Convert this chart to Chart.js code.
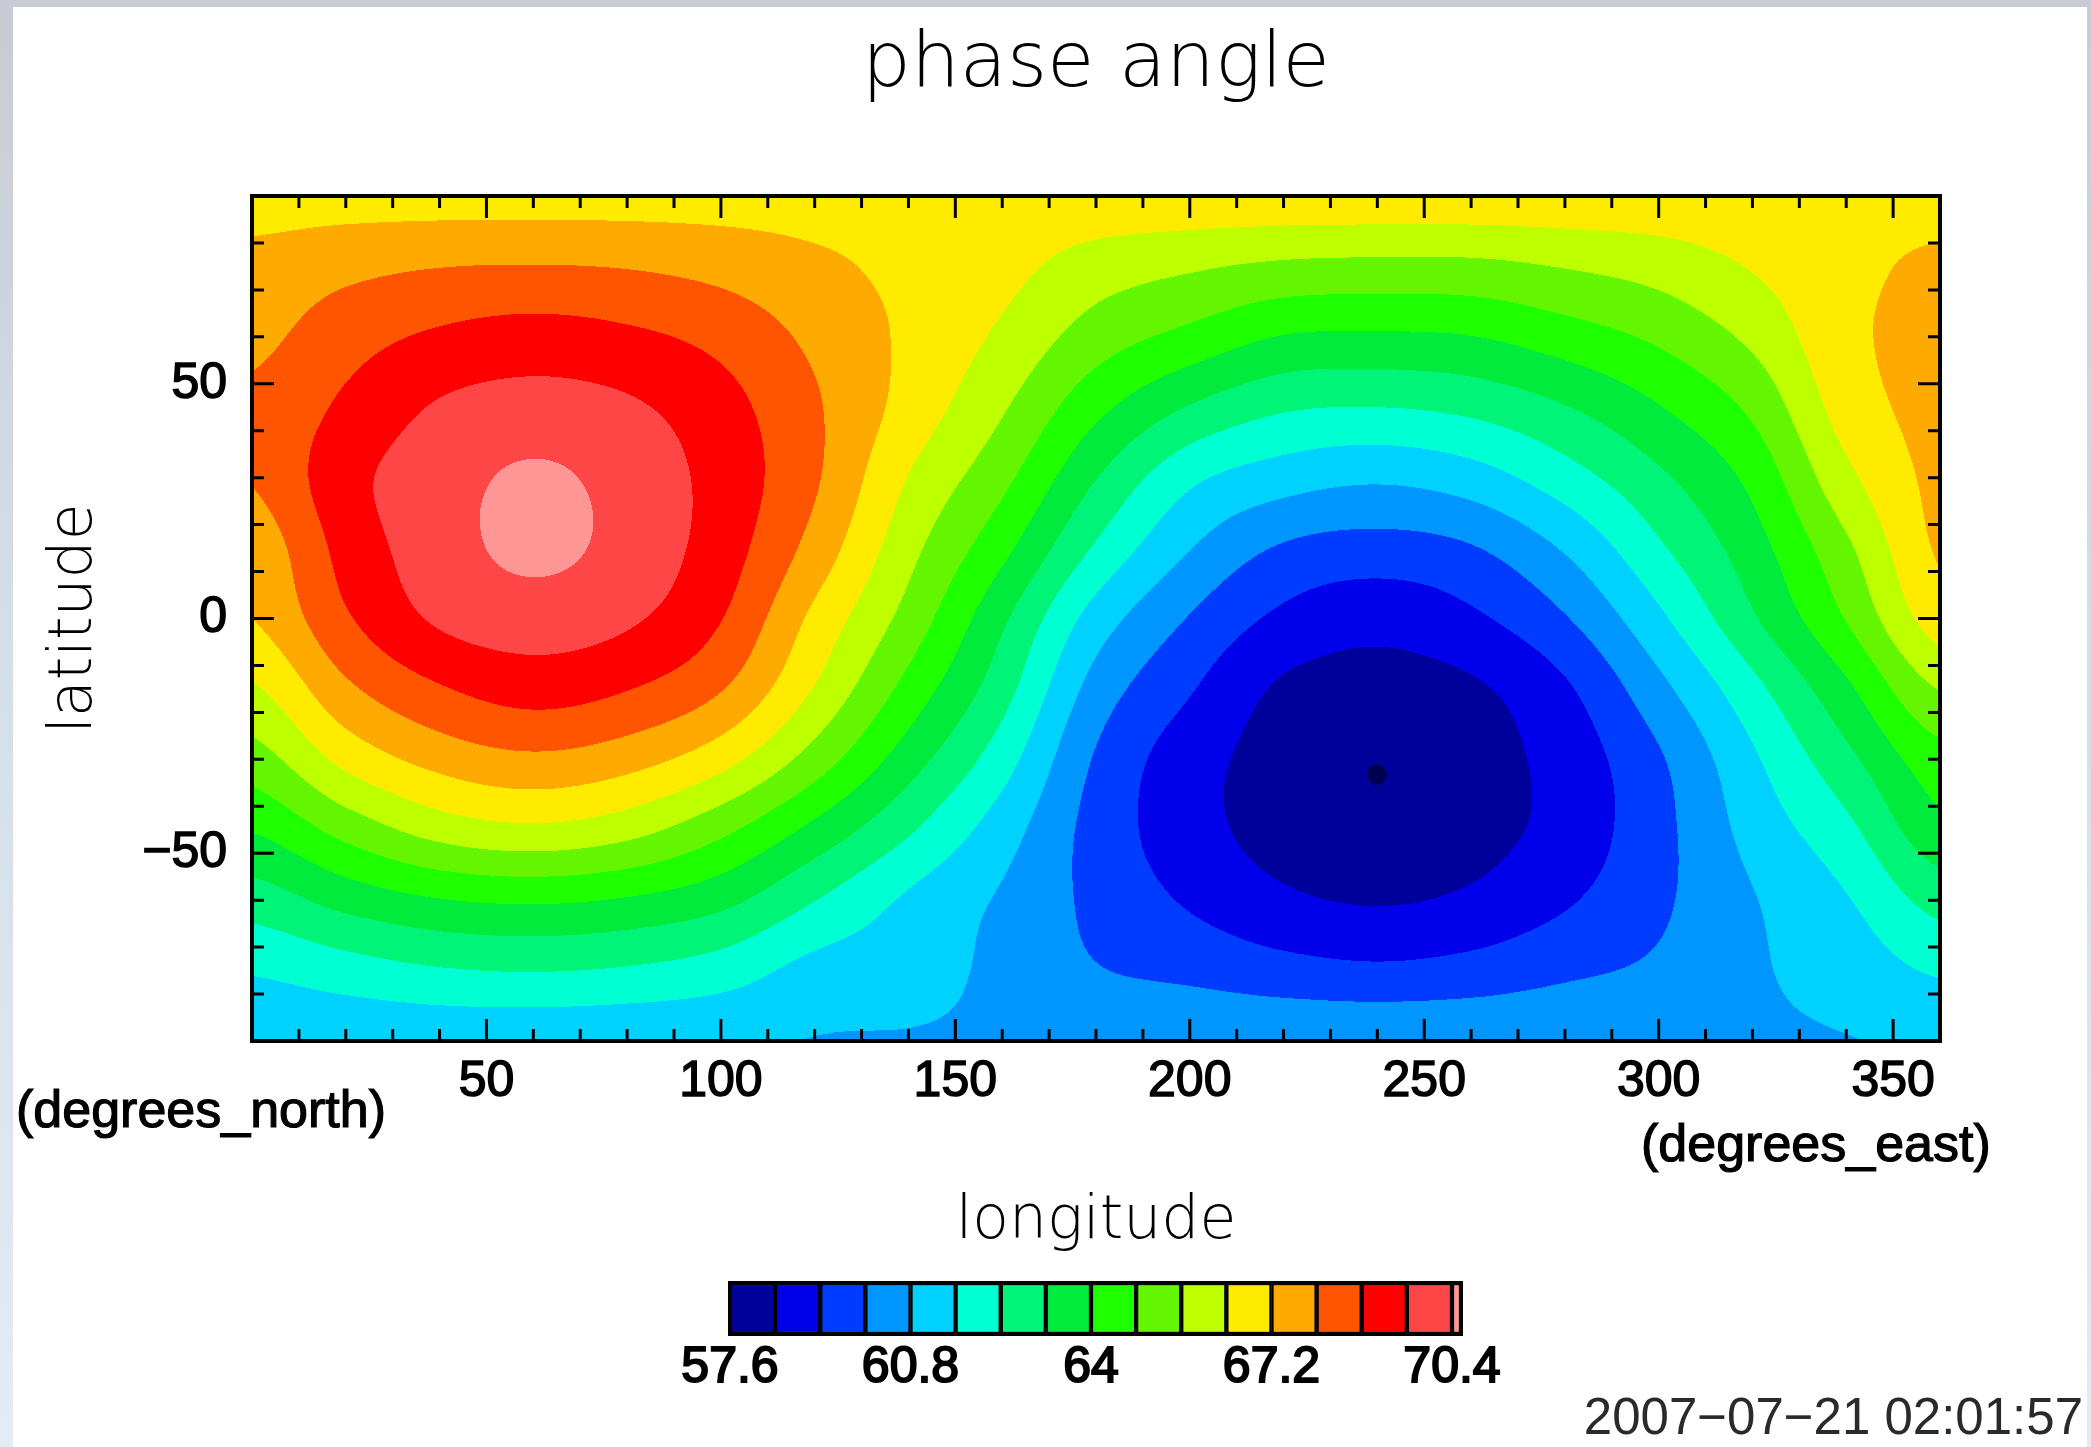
<!DOCTYPE html>
<html>
<head>
<meta charset="utf-8">
<title>phase angle</title>
<script src="https://cdn.jsdelivr.net/npm/chart.js@4.4.1/dist/chart.umd.min.js"></script>
<style>
  html, body { margin: 0; padding: 0; }
  body {
    width: 2091px; height: 1447px; overflow: hidden; position: relative;
    background: linear-gradient(180deg, #c8cbd3 0%, #d3dde8 40%, #e3ecf5 100%);
  }
  #sheet { position: absolute; left: 13px; top: 7px; width: 2074px; height: 1440px; background: #fff; }
  #mapChart { position: absolute; left: 0; top: 0; }
  #barChart { position: absolute; left: 650px; top: 1270px; }
  #stamp {
    position: absolute; right: 8px; top: 1387px; line-height: 51px;
    font: 51px "Liberation Sans", Arial, sans-serif; color: #2a2a2a; white-space: nowrap;
  }
</style>
</head>
<body>
<div id="sheet"></div>
<canvas id="mapChart" width="2091" height="1447"></canvas>
<canvas id="barChart" width="900" height="130"></canvas>
<div id="stamp">2007−07−21 02:01:57</div>
<script>
// grid of the field (degrees east / degrees north)
const lonGrid = [0, 20, 40, 60, 80, 100, 120, 140, 160, 180, 200, 220, 240, 260, 280, 300, 320, 340, 360];
const latGrid = [90, 75, 60, 45, 30, 15, 0, -15, -30, -45, -60, -75, -90];

const phaseAt90  = [66.9, 66.9, 66.9, 66.9, 66.9, 66.9, 66.9, 66.9, 66.9, 66.9, 66.9, 66.9, 66.9, 66.9, 66.9, 66.9, 66.9, 66.9, 66.9];
const phaseAt75  = [67.45, 67.78, 67.98, 68.03, 67.96, 67.74, 67.37, 67.0, 66.65, 66.03, 65.71, 65.46, 65.39, 65.41, 65.64, 65.93, 66.45, 66.98, 67.35];
const phaseAt60  = [67.8, 68.47, 68.93, 69.14, 68.96, 68.56, 67.82, 67.05, 66.25, 65.21, 64.56, 63.96, 63.88, 63.98, 64.42, 64.95, 65.78, 67.0, 67.45];
const phaseAt45  = [68.15, 68.95, 69.68, 69.91, 69.72, 69.1, 68.1, 66.9, 65.69, 64.23, 63.15, 62.51, 62.4, 62.61, 63.16, 63.96, 64.97, 66.75, 67.45];
const phaseAt30  = [68.05, 69.33, 70.06, 70.52, 70.1, 69.3, 68.1, 66.37, 65.02, 63.23, 61.79, 61.18, 60.93, 61.24, 62.05, 63.05, 64.22, 66.19, 67.4];
const phaseAt15  = [67.5, 69.08, 70.05, 70.58, 70.12, 69.2, 67.7, 65.86, 64.23, 62.3, 60.83, 59.91, 59.68, 59.94, 60.89, 62.28, 63.65, 65.44, 67.3];
const phaseAt0   = [67.2, 68.7, 69.72, 70.0, 69.72, 68.83, 67.0, 65.3, 63.35, 61.25, 59.95, 59.02, 58.66, 59.05, 59.94, 61.43, 63.1, 64.84, 66.8];
const phaseAtS15 = [66.3, 67.83, 68.72, 69.14, 68.83, 68.05, 66.35, 64.52, 62.73, 60.48, 59.27, 58.28, 58.1, 58.28, 59.08, 60.56, 62.15, 63.83, 65.64];
const phaseAtS30 = [65.25, 66.64, 67.49, 67.84, 67.52, 66.7, 65.24, 63.58, 61.96, 59.92, 58.75, 58.05, 57.61, 58.05, 58.72, 59.9, 61.47, 62.98, 64.49];
const phaseAtS45 = [64.05, 65.09, 65.93, 66.23, 65.89, 65.0, 63.78, 62.51, 61.18, 59.7, 58.72, 58.08, 57.76, 58.1, 58.7, 59.75, 61.09, 62.19, 63.77];
const phaseAtS60 = [62.8, 63.49, 63.96, 64.11, 63.92, 63.44, 62.42, 61.48, 60.7, 59.8, 59.1, 58.55, 58.33, 58.55, 59.1, 59.85, 60.75, 61.54, 62.69];
const phaseAtS75 = [61.67, 62.03, 62.33, 62.43, 62.31, 62.0, 61.34, 61.15, 60.6, 60.05, 59.8, 59.5, 59.35, 59.5, 59.85, 60.15, 60.7, 61.12, 61.7];
const phaseAtS90 = [60.95, 61.0, 61.05, 61.05, 61.0, 60.95, 60.78, 60.75, 60.7, 60.7, 60.7, 60.7, 60.7, 60.7, 60.7, 60.7, 60.72, 60.78, 60.9];

// contour levels and colour bar
const levels = [57.6, 58.4, 59.2, 60.0, 60.8, 61.6, 62.4, 63.2, 64.0, 64.8, 65.6, 66.4, 67.2, 68.0, 68.8, 69.6, 70.4];
const levelTop = 70.56;
const colorbarTicks = [57.6, 60.8, 64, 67.2, 70.4];

// axis ticks
const lonTicks = [50, 100, 150, 200, 250, 300, 350];
const latTicks = [-50, 0, 50];

const bandColors = ['#00009b', '#0000eb', '#003cff', '#0096ff', '#00d2ff', '#00ffd2', '#00f578', '#00eb3c',
  '#1eff00', '#64f500', '#beff00', '#ffeb00', '#ffaa00', '#ff5500', '#ff0000', '#ff4646', '#ff9696'];
const belowColor = '#000050';

const phaseRows = [phaseAt90, phaseAt75, phaseAt60, phaseAt45, phaseAt30, phaseAt15, phaseAt0,
  phaseAtS15, phaseAtS30, phaseAtS45, phaseAtS60, phaseAtS75, phaseAtS90];

function catmull(p0, p1, p2, p3, t) {
  return p1 + 0.5 * t * (p2 - p0 + t * (2 * p0 - 5 * p1 + 4 * p2 - p3 + t * (3 * (p1 - p2) + p3 - p0)));
}

function fieldAt(lon, lat) {
  const nx = lonGrid.length, ny = latGrid.length;
  let fx = (lon - lonGrid[0]) / (lonGrid[1] - lonGrid[0]);
  let fy = (lat - latGrid[0]) / (latGrid[1] - latGrid[0]);
  fx = Math.min(Math.max(fx, 0), nx - 1);
  fy = Math.min(Math.max(fy, 0), ny - 1);
  const i = Math.min(Math.floor(fx), nx - 2), j = Math.min(Math.floor(fy), ny - 2);
  const tx = fx - i, ty = fy - j;
  const c = k => Math.min(Math.max(k, 0), nx - 1);
  const r = k => Math.min(Math.max(k, 0), ny - 1);
  const v = [];
  for (let m = -1; m <= 2; m++) {
    const row = phaseRows[r(j + m)];
    v.push(catmull(row[c(i - 1)], row[c(i)], row[c(i + 1)], row[c(i + 2)], tx));
  }
  return catmull(v[0], v[1], v[2], v[3], ty);
}

function hexRgb(h) {
  return [parseInt(h.slice(1, 3), 16), parseInt(h.slice(3, 5), 16), parseInt(h.slice(5, 7), 16)];
}

const contourFill = {
  id: 'contourFill',
  beforeDatasetsDraw(chart) {
    const {ctx, chartArea: a, scales: {x, y}} = chart;
    const w = Math.round(a.right - a.left), h = Math.round(a.bottom - a.top);
    const off = document.createElement('canvas');
    off.width = w; off.height = h;
    const octx = off.getContext('2d');
    const img = octx.createImageData(w, h);
    const rgb = bandColors.map(hexRgb);
    const low = hexRgb(belowColor);
    const lons = [];
    for (let px = 0; px < w; px++) lons.push(x.getValueForPixel(a.left + px + 0.5));
    let k = 0;
    for (let py = 0; py < h; py++) {
      const lat = y.getValueForPixel(a.top + py + 0.5);
      for (let px = 0; px < w; px++) {
        const val = fieldAt(lons[px], lat);
        let col;
        if (val < levels[0]) col = low;
        else {
          let b = 0;
          while (b < levels.length - 1 && val >= levels[b + 1]) b++;
          col = rgb[b];
        }
        img.data[k++] = col[0]; img.data[k++] = col[1]; img.data[k++] = col[2]; img.data[k++] = 255;
      }
    }
    octx.putImageData(img, 0, 0);
    ctx.drawImage(off, a.left, a.top);
  }
};

const mapFrame = {
  id: 'mapFrame',
  afterDatasetsDraw(chart) {
    const {ctx, chartArea: a, scales: {x, y}} = chart;
    ctx.save();
    ctx.strokeStyle = '#000';
    ctx.lineWidth = 3;
    ctx.beginPath();
    for (let v = 10; v < 360; v += 10) {
      const px = x.getPixelForValue(v), len = lonTicks.includes(v) ? 22 : 12;
      ctx.moveTo(px, a.top); ctx.lineTo(px, a.top + len);
      ctx.moveTo(px, a.bottom); ctx.lineTo(px, a.bottom - len);
    }
    for (let v = -80; v <= 80; v += 10) {
      const py = y.getPixelForValue(v), len = latTicks.includes(v) ? 22 : 12;
      ctx.moveTo(a.left, py); ctx.lineTo(a.left + len, py);
      ctx.moveTo(a.right, py); ctx.lineTo(a.right - len, py);
    }
    ctx.stroke();
    ctx.lineWidth = 4;
    ctx.strokeRect(a.left, a.top, a.right - a.left, a.bottom - a.top);
    ctx.restore();
  },
  afterDraw(chart) {
    const {ctx} = chart;
    ctx.save();
    ctx.fillStyle = '#000';
    ctx.strokeStyle = '#000';
    ctx.lineWidth = 1.2;
    ctx.font = '52px "Liberation Sans", Arial, sans-serif';
    ctx.textBaseline = 'middle';
    ctx.textAlign = 'left';
    ctx.fillText('(degrees_north)', 16, 1113);
    ctx.strokeText('(degrees_north)', 16, 1113);
    ctx.fillText('(degrees_east)', 1641, 1147);
    ctx.strokeText('(degrees_east)', 1641, 1147);
    ctx.restore();
  }
};

const tickFont = {family: '"Liberation Sans", Arial, sans-serif', size: 50, weight: 'normal', lineHeight: 1};
const titleFont = {family: '"DejaVu Sans", sans-serif', size: 60, weight: 300, lineHeight: 1};

new Chart(document.getElementById('mapChart'), {
  type: 'scatter',
  data: {datasets: []},
  options: {
    responsive: false,
    animation: false,
    events: [],
    layout: {padding: {left: 0, right: 151, top: 0, bottom: 0}},
    plugins: {
      legend: {display: false},
      tooltip: {enabled: false},
      title: {
        display: true, text: 'phase angle', fullSize: false, color: '#000',
        font: {family: '"DejaVu Sans", sans-serif', size: 77, weight: 200, lineHeight: 1},
        padding: {top: 27, bottom: 92}
      }
    },
    scales: {
      x: {
        type: 'linear', min: 0, max: 360, position: 'bottom',
        afterBuildTicks: s => { s.ticks = lonTicks.map(v => ({value: v})); },
        afterFit: s => { s.height = 406; },
        grid: {display: false, drawTicks: false},
        border: {display: false},
        ticks: {padding: 16, color: '#000', font: tickFont, maxRotation: 0, autoSkip: false,
          textStrokeColor: '#000', textStrokeWidth: 1.5, callback: v => String(v)},
        title: {display: true, text: 'longitude', color: '#000', font: titleFont, padding: {top: 0, bottom: 195}}
      },
      y: {
        type: 'linear', min: -90, max: 90, position: 'left',
        afterBuildTicks: s => { s.ticks = latTicks.map(v => ({value: v})); },
        afterFit: s => { s.width = 252; },
        grid: {display: false, drawTicks: false},
        border: {display: false},
        ticks: {padding: 25, color: '#000', font: tickFont, autoSkip: false,
          textStrokeColor: '#000', textStrokeWidth: 1.5,
          callback: v => (v < 0 ? '\u2212' + Math.abs(v) : String(v))},
        title: {display: true, text: 'latitude', color: '#000', font: titleFont, padding: {top: 45, bottom: 0}}
      }
    }
  },
  plugins: [contourFill, mapFrame]
});

// colour bar
const barFrame = {
  id: 'barFrame',
  afterDatasetsDraw(chart) {
    const {ctx, chartArea: a} = chart;
    ctx.save();
    ctx.strokeStyle = '#000';
    ctx.lineWidth = 4;
    ctx.strokeRect(a.left, a.top, a.right - a.left, a.bottom - a.top);
    ctx.restore();
  }
};

const barSets = levels.map((lo, i) => ({
  data: [[lo, i < levels.length - 1 ? levels[i + 1] : levelTop]],
  backgroundColor: bandColors[i],
  borderColor: '#000',
  borderWidth: 2.5,
  borderSkipped: false,
  grouped: false,
  barPercentage: 1,
  categoryPercentage: 1
}));

new Chart(document.getElementById('barChart'), {
  type: 'bar',
  data: {labels: [''], datasets: barSets},
  options: {
    responsive: false,
    animation: false,
    events: [],
    indexAxis: 'y',
    layout: {padding: {left: 80, right: 89, top: 13, bottom: 0}},
    plugins: {legend: {display: false}, tooltip: {enabled: false}, title: {display: false}},
    scales: {
      x: {
        type: 'linear', min: levels[0], max: levelTop, position: 'bottom',
        afterBuildTicks: s => { s.ticks = colorbarTicks.map(v => ({value: v})); },
        afterFit: s => { s.height = 66; },
        grid: {display: false, drawTicks: false},
        border: {display: false},
        ticks: {padding: 9, color: '#000', font: tickFont, maxRotation: 0, autoSkip: false,
          textStrokeColor: '#000', textStrokeWidth: 2, callback: v => String(v)}
      },
      y: {display: false, afterFit: s => { s.width = 0; }}
    }
  },
  plugins: [barFrame]
});
</script>
</body>
</html>
